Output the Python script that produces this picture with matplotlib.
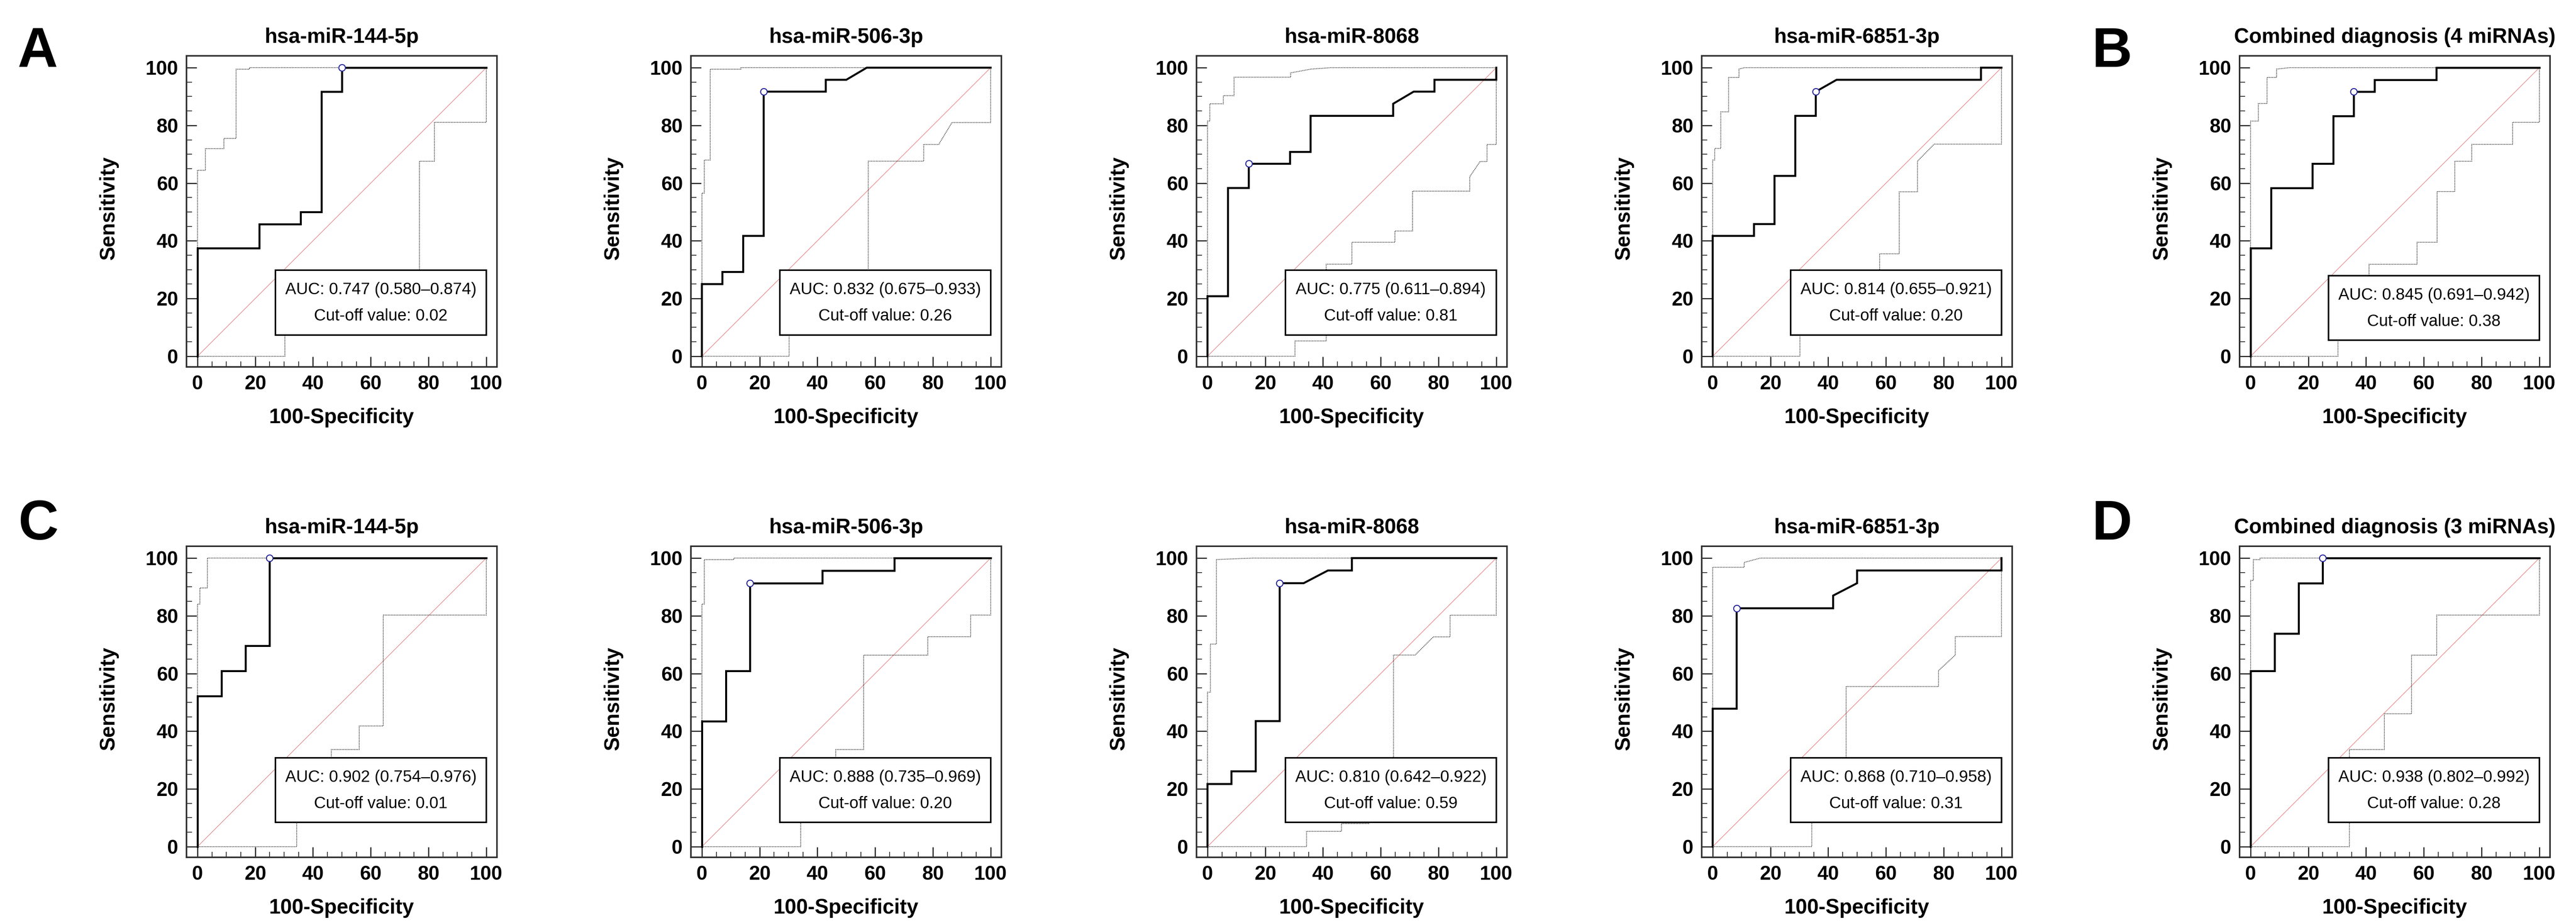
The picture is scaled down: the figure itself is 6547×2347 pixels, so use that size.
"""
ROC curves for the four miRNAs and their combined diagnosis (panels A-D)
"""

import matplotlib
matplotlib.use("Agg")
import matplotlib.pyplot as plt
from matplotlib.patches import Rectangle
from matplotlib.ticker import MultipleLocator

plt.rcParams['font.family'] = ['Liberation Sans', 'DejaVu Sans']

# ==================== Data ====================

titles_top = ["hsa-miR-144-5p", "hsa-miR-506-3p", "hsa-miR-8068", "hsa-miR-6851-3p",
              "Combined diagnosis (4 miRNAs)"]
titles_bottom = ["hsa-miR-144-5p", "hsa-miR-506-3p", "hsa-miR-8068", "hsa-miR-6851-3p",
                 "Combined diagnosis (3 miRNAs)"]

auc_top = ["AUC: 0.747 (0.580\u20130.874)", "AUC: 0.832 (0.675\u20130.933)",
           "AUC: 0.775 (0.611\u20130.894)", "AUC: 0.814 (0.655\u20130.921)",
           "AUC: 0.845 (0.691\u20130.942)"]
auc_bottom = ["AUC: 0.902 (0.754\u20130.976)", "AUC: 0.888 (0.735\u20130.969)",
              "AUC: 0.810 (0.642\u20130.922)", "AUC: 0.868 (0.710\u20130.958)",
              "AUC: 0.938 (0.802\u20130.992)"]
cutoff_top = ["0.02", "0.26", "0.81", "0.20", "0.38"]
cutoff_bottom = ["0.01", "0.20", "0.59", "0.31", "0.28"]

# Row 1 (A, B)
roc_a1_x = [0, 0, 21.4, 21.4, 35.7, 35.7, 42.9, 42.9, 50, 50, 100]
roc_a1_y = [0, 37.5, 37.5, 45.8, 45.8, 50, 50, 91.7, 91.7, 100, 100]
up_a1_x = [0, 0, 2.7, 2.7, 9.2, 9.2, 13.4, 13.4, 18, 18, 100]
up_a1_y = [0, 64.5, 64.5, 72, 72, 75.5, 75.5, 99.5, 99.5, 100, 100]
lo_a1_x = [0, 30.2, 30.2, 45, 45, 62, 62, 76.9, 76.9, 82, 82, 100, 100]
lo_a1_y = [0, 0, 12, 12, 18, 18, 24, 24, 67.6, 67.6, 81, 81, 100]
cut_a1 = (50, 100)

roc_a2_x = [0, 0, 7.1, 7.1, 14.3, 14.3, 21.4, 21.4, 42.9, 42.9, 50, 57.1, 100]
roc_a2_y = [0, 25, 25, 29.2, 29.2, 41.7, 41.7, 91.7, 91.7, 95.8, 95.8, 100, 100]
up_a2_x = [0, 0, 0.8, 0.8, 2.9, 2.9, 13.5, 13.5, 100]
up_a2_y = [0, 56.5, 56.5, 68, 68, 99.5, 99.5, 100, 100]
lo_a2_x = [0, 30.2, 30.2, 42, 42, 57.6, 57.6, 76.8, 76.8, 82, 86.6, 100, 100]
lo_a2_y = [0, 0, 12, 12, 22, 22, 67.6, 67.6, 73.4, 73.4, 81, 81, 100]
cut_a2 = (21.4, 91.7)

roc_a3_x = [0, 0, 7.1, 7.1, 14.3, 14.3, 28.6, 28.6, 35.7, 35.7, 64.3, 64.3, 71.4, 78.6, 78.6, 100, 100]
roc_a3_y = [0, 20.8, 20.8, 58.3, 58.3, 66.7, 66.7, 70.8, 70.8, 83.3, 83.3, 87.5, 91.7, 91.7, 95.8, 95.8, 100]
up_a3_x = [0, 0, 0.8, 0.8, 5.5, 5.5, 9.2, 9.2, 28.8, 28.8, 35.8, 42.6, 100]
up_a3_y = [0, 81.5, 81.5, 87.5, 87.5, 90.3, 90.3, 96.7, 96.7, 98.2, 99.5, 100, 100]
lo_a3_x = [0, 30.3, 30.3, 41.1, 41.1, 50, 50, 64.9, 64.9, 71, 71, 90.8, 90.8, 94.4, 96.8, 96.8, 100, 100]
lo_a3_y = [0, 0, 5.3, 5.3, 31.9, 31.9, 39.5, 39.5, 43.4, 43.4, 57.2, 57.2, 62.2, 67.5, 67.5, 73.4, 73.4, 100]
cut_a3 = (14.3, 66.7)

roc_a4_x = [0, 0, 14.3, 14.3, 21.4, 21.4, 28.6, 28.6, 35.7, 35.7, 42.9, 92.9, 92.9, 100]
roc_a4_y = [0, 41.7, 41.7, 45.8, 45.8, 62.5, 62.5, 83.3, 83.3, 91.7, 95.8, 95.8, 100, 100]
up_a4_x = [0, 0, 0.7, 0.7, 2.8, 2.8, 5.5, 5.5, 9.1, 9.1, 10.9, 100]
up_a4_y = [0, 68, 68, 72, 72, 84.7, 84.7, 96.6, 96.6, 99.5, 100, 100]
lo_a4_x = [0, 30.2, 30.2, 45, 45, 57.8, 57.8, 64.6, 64.6, 70.9, 70.9, 76.7, 100, 100]
lo_a4_y = [0, 0, 12, 12, 22, 22, 35.5, 35.5, 57, 57, 67.6, 73.5, 73.5, 100]
cut_a4 = (35.7, 91.7)

roc_b_x = [0, 0, 7.1, 7.1, 21.4, 21.4, 28.6, 28.6, 35.7, 35.7, 42.9, 42.9, 64.3, 64.3, 100]
roc_b_y = [0, 37.5, 37.5, 58.3, 58.3, 66.7, 66.7, 83.3, 83.3, 91.7, 91.7, 95.8, 95.8, 100, 100]
up_b_x = [0, 0, 2.7, 2.7, 5.7, 5.7, 9, 9, 13.4, 100]
up_b_y = [0, 81.5, 81.5, 87.6, 87.6, 96.6, 96.6, 99.5, 100, 100]
lo_b_x = [0, 30.2, 30.2, 41, 41, 57.6, 57.6, 64.6, 64.6, 70.7, 70.7, 76.6, 76.6, 90.7, 90.7, 100, 100]
lo_b_y = [0, 0, 15, 15, 31.9, 31.9, 39.5, 39.5, 57.1, 57.1, 67.6, 67.6, 73.4, 73.4, 81, 81, 100]
cut_b = (35.7, 91.7)

# Row 2 (C, D)
roc_c1_x = [0, 0, 8.3, 8.3, 16.7, 16.7, 25, 25, 100]
roc_c1_y = [0, 52.2, 52.2, 60.9, 60.9, 69.6, 69.6, 100, 100]
up_c1_x = [0, 0, 0.9, 0.9, 3.4, 3.4, 100]
up_c1_y = [0, 84, 84, 89.7, 89.7, 100, 100]
lo_c1_x = [0, 34.3, 34.3, 46.3, 46.3, 56, 56, 64.3, 64.3, 100, 100]
lo_c1_y = [0, 0, 20, 20, 33.6, 33.6, 41.8, 41.8, 80.2, 80.2, 100]
cut_c1 = (25, 100)

roc_c2_x = [0, 0, 8.3, 8.3, 16.7, 16.7, 41.7, 41.7, 66.7, 66.7, 100]
roc_c2_y = [0, 43.5, 43.5, 60.9, 60.9, 91.3, 91.3, 95.7, 95.7, 100, 100]
up_c2_x = [0, 0, 0.8, 0.8, 11.1, 11.1, 100]
up_c2_y = [0, 84, 84, 99.5, 99.5, 100, 100]
lo_c2_x = [0, 34.2, 34.2, 46.3, 46.3, 56, 56, 78.2, 78.2, 93.1, 93.1, 100, 100]
lo_c2_y = [0, 0, 20, 20, 33.6, 33.6, 66.4, 66.4, 72.8, 72.8, 80.2, 80.2, 100]
cut_c2 = (16.7, 91.3)

roc_c3_x = [0, 0, 8.3, 8.3, 16.7, 16.7, 25, 25, 33.3, 41.7, 50, 50, 100]
roc_c3_y = [0, 21.7, 21.7, 26.1, 26.1, 43.5, 43.5, 91.3, 91.3, 95.7, 95.7, 100, 100]
up_c3_x = [0, 0, 1, 1, 3.1, 3.1, 15.7, 100]
up_c3_y = [0, 53.5, 53.5, 70.2, 70.2, 99.5, 100, 100]
lo_c3_x = [0, 34.3, 34.3, 46.4, 46.4, 55.9, 55.9, 64.4, 64.4, 71.9, 78.2, 84, 84, 100, 100]
lo_c3_y = [0, 0, 5.3, 5.3, 8, 8, 8.3, 8.3, 66.4, 66.4, 72.7, 72.7, 80.2, 80.2, 100]
cut_c3 = (25, 91.3)

roc_c4_x = [0, 0, 8.3, 8.3, 41.7, 41.7, 50, 50, 100, 100]
roc_c4_y = [0, 47.8, 47.8, 82.6, 82.6, 87, 91.3, 95.7, 95.7, 100]
up_c4_x = [0, 0, 10.9, 10.9, 16.5, 100]
up_c4_y = [0, 96.8, 96.8, 98.5, 100, 100]
lo_c4_x = [0, 34.3, 34.3, 46.2, 46.2, 78.2, 78.2, 84, 84, 100, 100]
lo_c4_y = [0, 0, 20, 20, 55.5, 55.5, 61, 66.4, 72.8, 72.8, 100]
cut_c4 = (8.3, 82.6)

roc_d_x = [0, 0, 8.3, 8.3, 16.7, 16.7, 25, 25, 100]
roc_d_y = [0, 60.9, 60.9, 73.9, 73.9, 91.3, 91.3, 100, 100]
up_d_x = [0, 0, 1, 1, 3.3, 3.3, 100]
up_d_y = [0, 92.2, 92.2, 99.5, 99.5, 100, 100]
lo_d_x = [0, 34.2, 34.2, 46.3, 46.3, 55.8, 55.8, 64.4, 64.4, 100, 100]
lo_d_y = [0, 0, 33.6, 33.6, 46, 46, 66.4, 66.4, 80.2, 80.2, 100]
cut_d = (25, 100)

# ==================== Layout (pixels on a 6547 x 2347 canvas) ====================

W, H = 6547, 2347
col_left = [474, 1756, 3041, 4325, 5692]
box_w = 789
row_top = [142, 1389]
box_h = 791
# y of the bottom of the AUC box in data units, per panel
box_bottom_top = [7.4, 7.4, 7.4, 7.4, 5.5]
box_bottom_bottom = [8.4, 8.4, 8.4, 8.4, 8.4]

frame_color = "#2e2e2e"


def draw_roc(ax, roc_x, roc_y, up_x, up_y, lo_x, lo_y, cut, title, auc, cutoff, box_y0):
    """Draw one ROC panel with its confidence bounds and AUC box"""
    ax.plot([0, 100], [0, 100], color="#e88a8a", lw=1.1, zorder=1)
    ax.plot(up_x, up_y, color="#3c3c3c", lw=1.5, ls=(0, (1, 0.9)), zorder=2)
    ax.plot(lo_x, lo_y, color="#3c3c3c", lw=1.5, ls=(0, (1, 0.9)), zorder=2)
    ax.plot(roc_x, roc_y, color="black", lw=3.6, zorder=3, solid_joinstyle="miter")
    ax.plot([cut[0]], [cut[1]], marker="o", ms=12, mfc="white", mec="#24249a",
            mew=1.8, zorder=6, clip_on=False)

    # AUC box
    box_h_data = 22.4
    ax.add_patch(Rectangle((27, box_y0), 73, box_h_data, facecolor="white",
                           edgecolor="black", lw=2.8, zorder=4))
    ax.text(63.5, box_y0 + box_h_data - 6.8, auc, ha="center", va="center",
            fontsize=30, zorder=5)
    ax.text(63.5, box_y0 + 6.5, "Cut-off value: " + cutoff, ha="center", va="center",
            fontsize=30, zorder=5)

    ax.set_xlim(-3.8, 103.7)
    ax.set_ylim(-3.7, 104.1)
    ax.xaxis.set_major_locator(MultipleLocator(20))
    ax.xaxis.set_minor_locator(MultipleLocator(5))
    ax.yaxis.set_major_locator(MultipleLocator(20))
    ax.yaxis.set_minor_locator(MultipleLocator(5))
    ax.tick_params(which="both", direction="in", top=False, right=False, color=frame_color)
    ax.tick_params(which="major", length=19, width=2.2, pad=15, labelsize=36)
    ax.tick_params(which="minor", length=10, width=1.5)
    for lab in ax.get_xticklabels() + ax.get_yticklabels():
        lab.set_fontweight("bold")
    for sp in ax.spines.values():
        sp.set_color(frame_color)
        sp.set_linewidth(2.8)

    ax.text(0.5, 1.042, title, transform=ax.transAxes, ha="center", va="baseline",
            fontsize=38, fontweight="bold")
    ax.text(0.5, -0.181, "100-Specificity", transform=ax.transAxes, ha="center",
            va="baseline", fontsize=38, fontweight="bold")
    ax.text(-0.25, 0.51, "Sensitivity", transform=ax.transAxes, ha="center",
            va="center", rotation=90, fontsize=38, fontweight="bold")


fig = plt.figure(figsize=(W / 100, H / 100), dpi=100)
fig.patch.set_facecolor("white")

top_panels = [
    (roc_a1_x, roc_a1_y, up_a1_x, up_a1_y, lo_a1_x, lo_a1_y, cut_a1),
    (roc_a2_x, roc_a2_y, up_a2_x, up_a2_y, lo_a2_x, lo_a2_y, cut_a2),
    (roc_a3_x, roc_a3_y, up_a3_x, up_a3_y, lo_a3_x, lo_a3_y, cut_a3),
    (roc_a4_x, roc_a4_y, up_a4_x, up_a4_y, lo_a4_x, lo_a4_y, cut_a4),
    (roc_b_x, roc_b_y, up_b_x, up_b_y, lo_b_x, lo_b_y, cut_b),
]
bottom_panels = [
    (roc_c1_x, roc_c1_y, up_c1_x, up_c1_y, lo_c1_x, lo_c1_y, cut_c1),
    (roc_c2_x, roc_c2_y, up_c2_x, up_c2_y, lo_c2_x, lo_c2_y, cut_c2),
    (roc_c3_x, roc_c3_y, up_c3_x, up_c3_y, lo_c3_x, lo_c3_y, cut_c3),
    (roc_c4_x, roc_c4_y, up_c4_x, up_c4_y, lo_c4_x, lo_c4_y, cut_c4),
    (roc_d_x, roc_d_y, up_d_x, up_d_y, lo_d_x, lo_d_y, cut_d),
]

rows = [
    (top_panels, titles_top, auc_top, cutoff_top, box_bottom_top),
    (bottom_panels, titles_bottom, auc_bottom, cutoff_bottom, box_bottom_bottom),
]

for r, (panels, titles, aucs, cutoffs, box_y0s) in enumerate(rows):
    for c, p in enumerate(panels):
        left = col_left[c] / W
        bottom = 1 - (row_top[r] + box_h) / H
        ax = fig.add_axes([left, bottom, box_w / W, box_h / H])
        draw_roc(ax, *p, titles[c], aucs[c], cutoffs[c], box_y0s[c])

# Panel letters
for letter, x_px, y_px in [("A", 44, 170), ("B", 5316, 170), ("C", 46, 1372), ("D", 5316, 1372)]:
    fig.text(x_px / W, 1 - y_px / H, letter, ha="left", va="baseline",
             fontsize=102, fontweight="bold")

fig.savefig("out.png", dpi=100)
